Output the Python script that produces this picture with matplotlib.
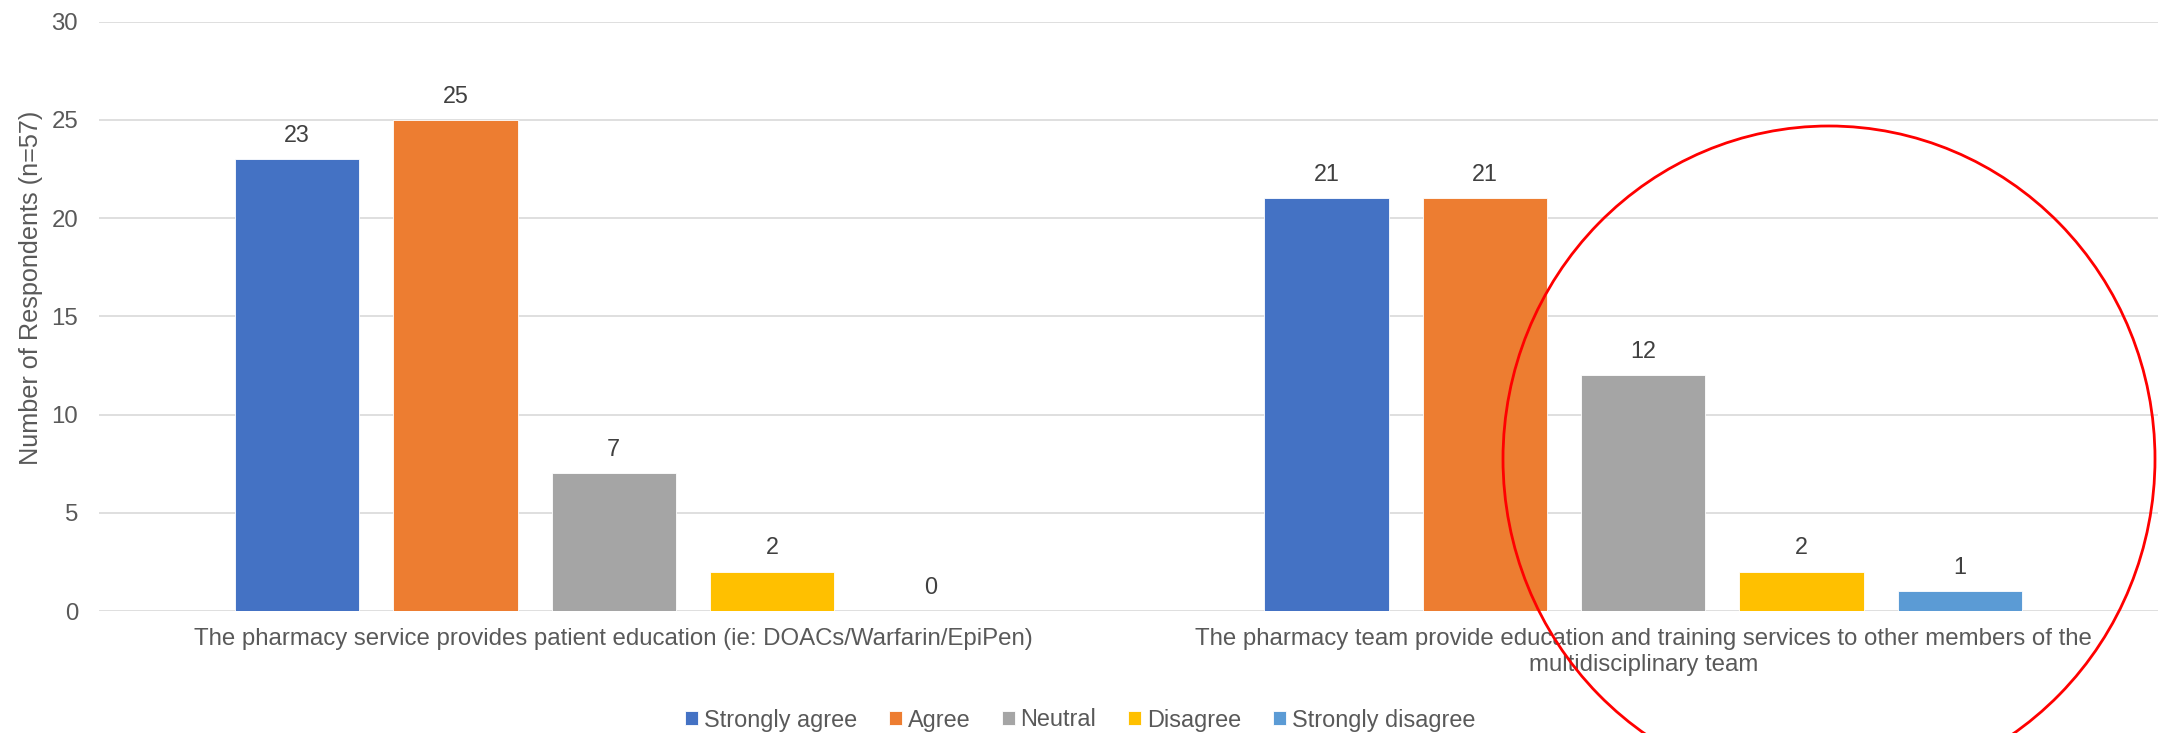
import numpy as np
from matplotlib import pyplot as plt
from matplotlib.patches import Ellipse

plt.rcParams['font.family'] = ['Liberation Sans', 'DejaVu Sans']

statements = [
    "The pharmacy service provides patient education (ie: DOACs/Warfarin/EpiPen)",
    "The pharmacy team provide education and training services to other members of the\nmultidisciplinary team",
]
responses = ["Strongly agree", "Agree", "Neutral", "Disagree", "Strongly disagree"]
strongly_agree = [23, 21]
agree = [25, 21]
neutral = [7, 12]
disagree = [2, 2]
strongly_disagree = [0, 1]
counts = [strongly_agree, agree, neutral, disagree, strongly_disagree]
colors = ["#4472C4", "#ED7D31", "#A5A5A5", "#FFC000", "#5B9BD5"]

fig = plt.figure(figsize=(21.6, 7.33), dpi=100)
ax = fig.add_axes([99 / 2160, 1 - 611 / 733, 2059 / 2160, (611 - 21.7) / 733])

x = np.arange(len(statements))
width = 0.1207
step = 0.1538
for i, (name, vals, col) in enumerate(zip(responses, counts, colors)):
    pos = x + (i - 2) * step
    bars = ax.bar(pos, vals, width, color=col, label=name, zorder=3,
                  edgecolor='white', linewidth=0.6)
    for b, v in zip(bars, vals):
        ax.annotate(str(v), (b.get_x() + b.get_width() / 2, v),
                    xytext=(0, 12.4), textcoords='offset points',
                    ha='center', va='baseline', fontsize=16.8, color='#404040')

ax.set_xlim(-0.5, 1.5)
ax.set_ylim(0, 30)
ax.set_yticks(range(0, 31, 5))
ax.set_xticks(x)
ax.set_xticklabels(statements, linespacing=1.25)
ax.tick_params(axis='both', length=0, labelsize=17.3, labelcolor='#595959')
ax.tick_params(axis='y', pad=15)
ax.tick_params(axis='x', pad=12)
for s in ax.spines.values():
    s.set_visible(False)
ax.grid(axis='y', color='#D9D9D9', linewidth=1.2, zorder=0)
ax.set_ylabel('Number of Respondents (n=57)', fontsize=18.2, color='#595959')
ax.yaxis.set_label_coords(-0.0272, 0.549)

fig.legend(loc='center', bbox_to_anchor=(0.5, 1 - 720 / 733), ncol=5, frameon=False,
           fontsize=16.9, labelcolor='#595959', handlelength=0.55, handleheight=0.55,
           handletextpad=0.25, columnspacing=1.35, borderaxespad=0)

# red ring drawn over the second statement
ring = Ellipse((18.29, 7.33 - 4.59), 6.52, 6.66, fill=False, edgecolor='#FF0000',
               linewidth=2, transform=fig.dpi_scale_trans, clip_on=False, zorder=10)
fig.add_artist(ring)

plt.savefig('out.png', dpi=100)
